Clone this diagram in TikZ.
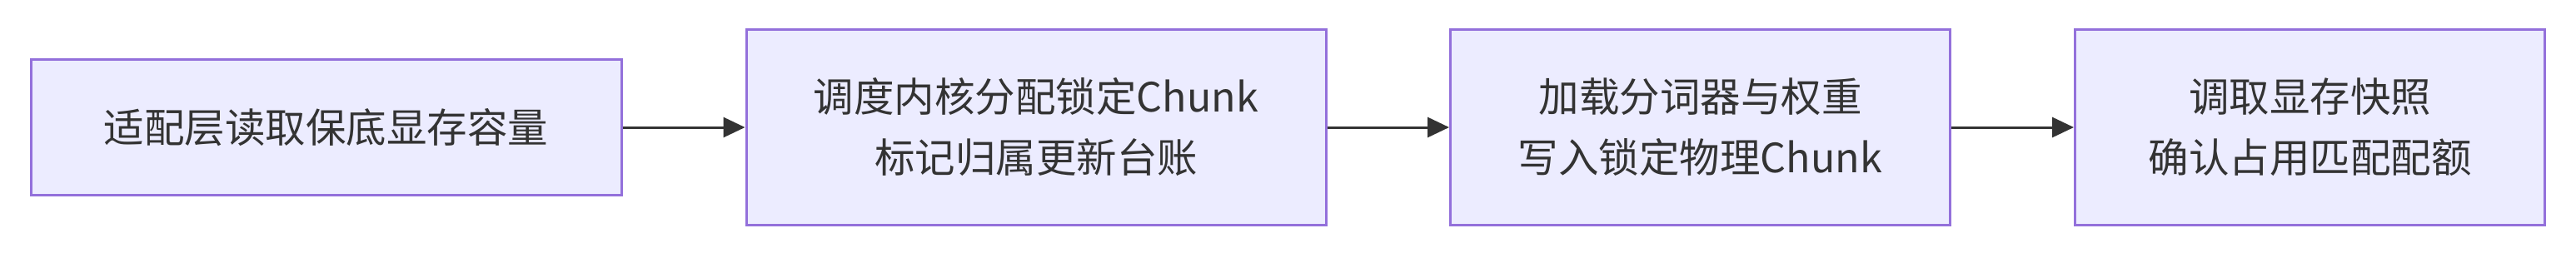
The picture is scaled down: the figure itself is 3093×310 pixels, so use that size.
\documentclass[tikz,border=0pt]{standalone}
\usepackage{fontspec}
\setmainfont{Noto Sans CJK SC}
\usetikzlibrary{arrows.meta}
\definecolor{boxfill}{HTML}{ECECFF}
\definecolor{boxdraw}{HTML}{9370DB}
\definecolor{ink}{HTML}{333333}
\tikzset{
  procbox/.style={draw=boxdraw, fill=boxfill, line width=3pt, inner sep=0pt,
    text=ink, align=center, font=\fontsize{48.5}{73}\selectfont},
  flow/.style={draw=ink, line width=3pt, -{Triangle[length=26pt,width=24pt]}}
}
\begin{document}
\begin{tikzpicture}[x=1pt,y=-1pt]
\useasboundingbox (0,0) rectangle (3093,310);
\node[procbox, minimum width=709pt, minimum height=162pt] (a) at (391.5,153) {适配层读取保底显存容量};
\node[procbox, minimum width=696pt, minimum height=234pt] (b) at (1244,153) {调度内核分配锁定Chunk\\标记归属更新台账};
\node[procbox, minimum width=600pt, minimum height=234pt] (c) at (2041.5,153) {加载分词器与权重\\写入锁定物理Chunk};
\node[procbox, minimum width=564pt, minimum height=234pt] (d) at (2773.5,153) {调取显存快照\\确认占用匹配配额};
\draw[flow] (a.east) -- (b.west);
\draw[flow] (b.east) -- (c.west);
\draw[flow] (c.east) -- (d.west);
\end{tikzpicture}
\end{document}
